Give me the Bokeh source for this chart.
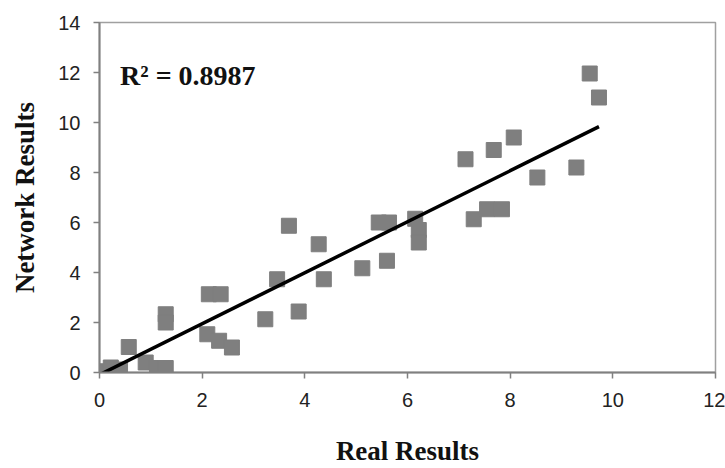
from bokeh.plotting import figure
from bokeh.models import Range1d, FixedTicker, Label
from bokeh.embed import file_html
from bokeh.resources import INLINE

# Data
real_results = [0.05, 0.22, 0.40, 0.57, 0.90, 1.12, 1.29, 1.29, 1.29,
                2.10, 2.13, 2.33, 2.36, 2.58, 3.23, 3.46, 3.69, 3.88,
                4.27, 4.37, 5.12, 5.44, 5.60, 5.64, 6.15, 6.22, 6.22,
                7.13, 7.29, 7.55, 7.68, 7.84, 8.07, 8.53, 9.29, 9.55, 9.73]
network_results = [0.05, 0.20, 0.12, 1.02, 0.40, 0.18, 0.18, 2.33, 2.00,
                   1.53, 3.13, 1.27, 3.13, 1.00, 2.13, 3.73, 5.87, 2.44,
                   5.13, 3.73, 4.17, 6.00, 4.47, 6.00, 6.15, 5.70, 5.20,
                   8.53, 6.13, 6.53, 8.90, 6.53, 9.40, 7.80, 8.20, 11.96, 11.00]
trend_slope = 1.02
trend_intercept = -0.09
r_squared_text = "R² = 0.8987"
x_ticks = [0, 2, 4, 6, 8, 10, 12]
y_ticks = [0, 2, 4, 6, 8, 10, 12, 14]

p = figure(width=725, height=468, output_backend="svg", toolbar_location=None,
           x_range=Range1d(0, 12), y_range=Range1d(0, 14))
p.min_border_left = 99
p.min_border_right = 10
p.min_border_top = 22
p.min_border_bottom = 96
p.background_fill_color = "white"
p.border_fill_color = "white"
p.grid.visible = False
p.outline_line_color = "#a0a0a0"
p.outline_line_width = 1.5

tick_font = "'Liberation Sans Narrow', 'Liberation Sans', Arial, sans-serif"
for ax in (p.xaxis[0], p.yaxis[0]):
    ax.axis_line_color = "#808080"
    ax.axis_line_width = 2
    ax.major_tick_line_color = "#808080"
    ax.major_tick_line_width = 1.5
    ax.major_tick_out = 6
    ax.major_tick_in = 0
    ax.minor_tick_line_color = None
    ax.major_label_text_font = tick_font
    ax.major_label_text_font_size = "20px"
    ax.major_label_text_color = "#222222"
    ax.axis_label_text_font = "Liberation Serif"
    ax.axis_label_text_font_style = "bold"
    ax.axis_label_text_font_size = "27px"
    ax.axis_label_text_color = "#111111"

p.xaxis.ticker = FixedTicker(ticks=x_ticks)
p.yaxis.ticker = FixedTicker(ticks=y_ticks)
p.xaxis.axis_label = "Real Results"
p.yaxis.axis_label = "Network Results"
p.xaxis.major_label_standoff = 14
p.yaxis.major_label_standoff = 13
p.xaxis.axis_label_standoff = 26
p.yaxis.axis_label_standoff = 15

# data squares
p.scatter(real_results, network_results, marker="square", size=15,
          fill_color="#7f7f7f", line_color="#7f7f7f")

# linear trend line over the data range
x0 = 0.0
x1 = max(real_results)
p.line([x0, x1], [trend_slope * x0 + trend_intercept, trend_slope * x1 + trend_intercept],
       line_color="black", line_width=3.5)

p.add_layout(Label(x=0.4, y=11.9, text=r_squared_text, text_font="Liberation Serif",
                   text_font_style="bold", text_font_size="28px", text_color="#111111",
                   text_baseline="middle"))

open("out.html", "w").write(file_html(p, INLINE))
